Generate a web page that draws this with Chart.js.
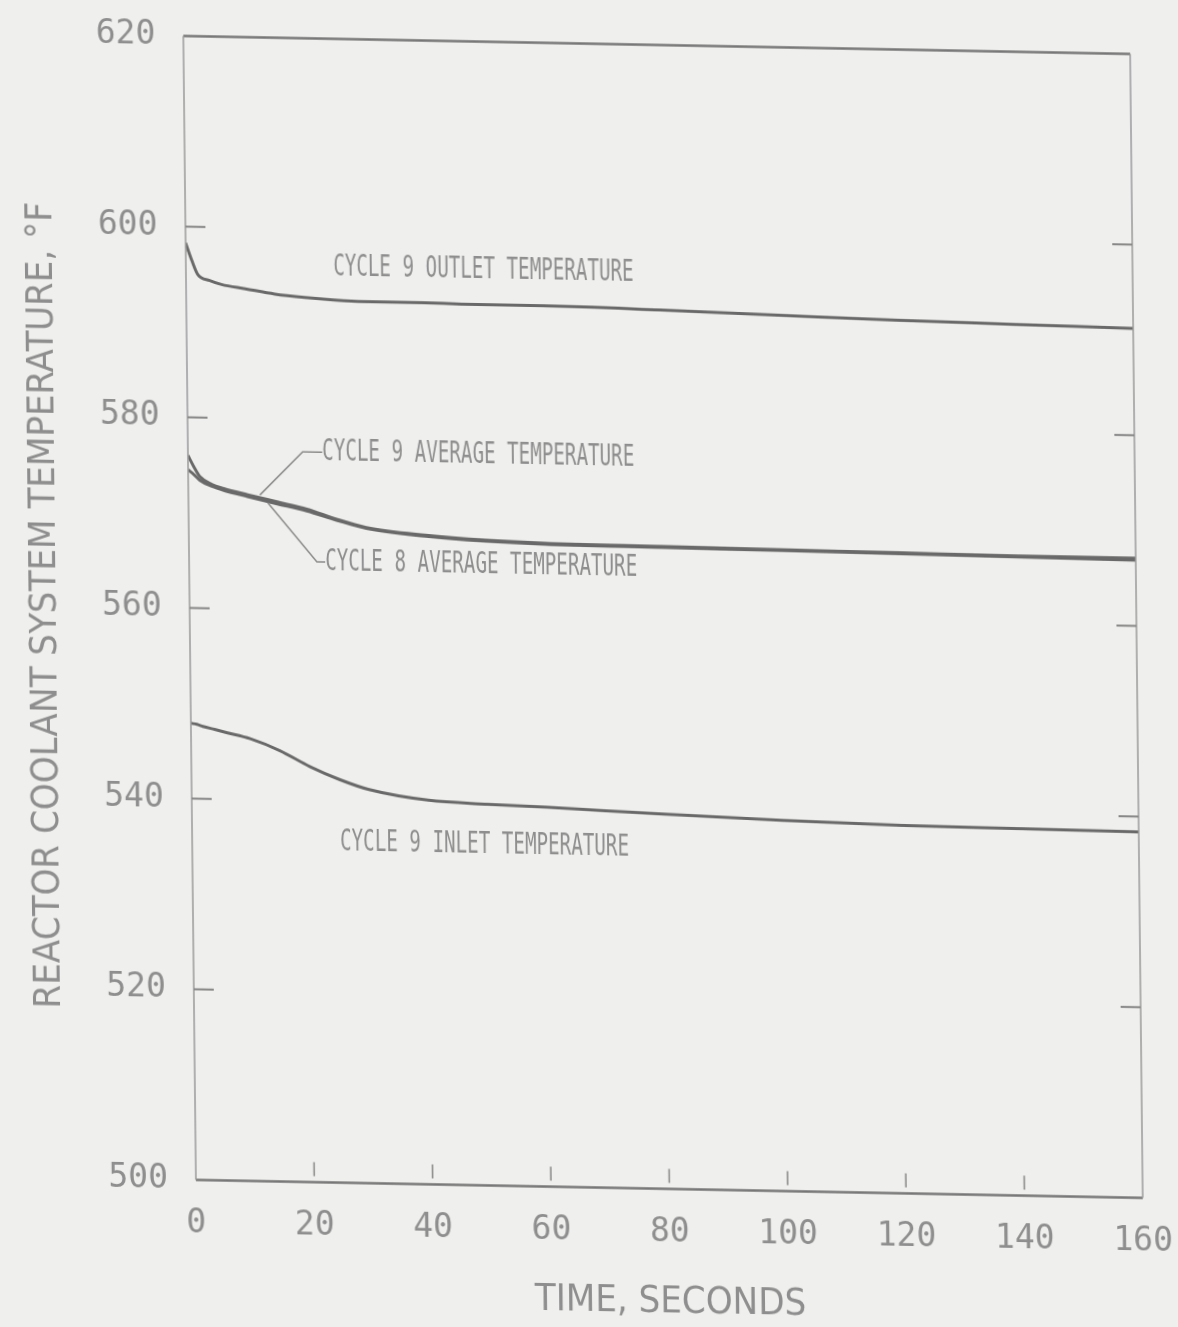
<!DOCTYPE html>
<html>
<head>
<meta charset="utf-8">
<script src="https://cdn.jsdelivr.net/npm/chart.js@4.4.0/dist/chart.umd.min.js"></script>
<style>
  html, body { margin: 0; padding: 0; background: #efefed; overflow: hidden; }
  /* the scanned plot is slightly skewed, so the whole canvas is too */
  #wrap {
    position: absolute; left: 0; top: 0; width: 1178px; height: 1327px;
    transform: matrix(1, 0.019, 0.011, 1, 0, 0); transform-origin: 0 0;
  }
</style>
</head>
<body>
<div id="wrap"><canvas id="chart"></canvas></div>
<script>
const timeSec = [0, 1, 2, 4, 6, 10, 15, 20, 25, 30, 40, 50, 60, 80, 100, 120, 140, 160];
const outletTemp = [598.3, 596.5, 595.0, 594.4, 594.0, 593.6, 593.1, 592.8, 592.6, 592.5, 592.5, 592.4, 592.4, 592.2, 591.9, 591.6, 591.4, 591.2];
const avgTempCycle9 = [576.0, 574.8, 573.8, 573.0, 572.6, 572.0, 571.3, 570.6, 569.6, 568.8, 568.1, 567.7, 567.5, 567.4, 567.3, 567.2, 567.1, 567.1];
const avgTempCycle8 = [574.5, 574.0, 573.4, 572.8, 572.4, 571.8, 571.1, 570.4, 569.5, 568.7, 568.0, 567.6, 567.4, 567.3, 567.2, 567.1, 567.0, 566.9];
const inletTemp = [547.9, 547.8, 547.6, 547.3, 547.0, 546.4, 545.2, 543.6, 542.3, 541.3, 540.3, 540.0, 539.8, 539.3, 538.9, 538.6, 538.5, 538.4];

const yTicks = [500, 520, 540, 560, 580, 600, 620];
const xTicks = [0, 20, 40, 60, 80, 100, 120, 140, 160];

// curve labels, anchored in data units (seconds, deg F)
const curveLabels = [
  { text: "CYCLE 9 OUTLET TEMPERATURE", t: 24.9, v: 596.0 },
  { text: "CYCLE 9 AVERAGE TEMPERATURE", t: 22.7, v: 576.6 },
  { text: "CYCLE 8 AVERAGE TEMPERATURE", t: 23.0, v: 565.1 },
  { text: "CYCLE 9 INLET TEMPERATURE", t: 25.0, v: 535.7 }
];
const leaderLines = [
  [[22.7, 576.6], [19.4, 576.6], [12.1, 572.0]],
  [[23.0, 565.1], [21.6, 565.1], [13.4, 571.2]]
];

const LINE = "#696969";
const TEXT = "#8e8e8e";
const MONO = "'DejaVu Sans Mono', 'Liberation Mono', monospace";
const COND = "'DejaVu Sans Condensed', 'DejaVu Sans', sans-serif";

function series(values) {
  return timeSec.map((t, i) => ({ x: t, y: values[i] }));
}

function seg(ctx, x1, y1, x2, y2) {
  ctx.beginPath();
  ctx.moveTo(x1, y1);
  ctx.lineTo(x2, y2);
  ctx.stroke();
}

const plotDecor = {
  id: "plotDecor",
  afterDatasetsDraw(chart) {
    const { ctx, chartArea: a, scales: { x, y } } = chart;
    ctx.save();
    ctx.strokeStyle = "#777";
    ctx.lineWidth = 2.5;
    seg(ctx, a.left, a.top, a.right, a.top);
    seg(ctx, a.left, a.bottom, a.right, a.bottom);
    ctx.lineWidth = 1.5;
    ctx.strokeStyle = "#9a9a9a";
    seg(ctx, a.left, a.top, a.left, a.bottom);
    seg(ctx, a.right, a.top, a.right, a.bottom);

    // inward tick marks
    ctx.strokeStyle = "#858585";
    ctx.lineWidth = 2;
    yTicks.slice(1, -1).forEach((v) => {
      const py = y.getPixelForValue(v);
      seg(ctx, a.left, py, a.left + 20, py);
      seg(ctx, a.right - 20, py, a.right, py);
    });
    ctx.lineWidth = 1.5;
    xTicks.slice(1, -1).forEach((t) => {
      const px = x.getPixelForValue(t);
      seg(ctx, px, a.bottom - 20, px, a.bottom - 6);
    });

    // leader lines
    ctx.strokeStyle = "#8a8a8a";
    ctx.lineWidth = 1.5;
    leaderLines.forEach((pts) => {
      ctx.beginPath();
      pts.forEach(([t, v], i) => {
        const px = x.getPixelForValue(t);
        const py = y.getPixelForValue(v);
        if (i === 0) ctx.moveTo(px, py); else ctx.lineTo(px, py);
      });
      ctx.stroke();
    });

    // plotter style labels, narrow glyphs
    ctx.fillStyle = TEXT;
    ctx.font = `30px ${MONO}`;
    ctx.textBaseline = "middle";
    ctx.textAlign = "left";
    curveLabels.forEach((lab) => {
      ctx.save();
      ctx.translate(x.getPixelForValue(lab.t), y.getPixelForValue(lab.v));
      ctx.scale(0.64, 1);
      ctx.fillText(lab.text, 0, 0);
      ctx.restore();
    });
    ctx.restore();
  }
};

const lineStyle = {
  borderColor: LINE,
  borderWidth: 3,
  pointRadius: 0,
  fill: false,
  cubicInterpolationMode: "monotone"
};

new Chart(document.getElementById("chart"), {
  type: "line",
  data: {
    datasets: [
      { label: "Cycle 9 outlet", data: series(outletTemp), ...lineStyle },
      { label: "Cycle 9 average", data: series(avgTempCycle9), ...lineStyle },
      { label: "Cycle 8 average", data: series(avgTempCycle8), ...lineStyle },
      { label: "Cycle 9 inlet", data: series(inletTemp), ...lineStyle }
    ]
  },
  options: {
    responsive: true,
    maintainAspectRatio: false,
    animation: false,
    layout: { padding: { top: 32.5, right: 48, bottom: 0, left: 0 } },
    plugins: { legend: { display: false }, tooltip: { enabled: false } },
    scales: {
      x: {
        type: "linear",
        min: 0,
        max: 160,
        afterBuildTicks: (s) => { s.ticks = xTicks.map((v) => ({ value: v })); },
        afterFit: (s) => { s.height = 150.5; s.paddingLeft = 0; s.paddingRight = 0; },
        grid: { display: false, drawTicks: false },
        border: { display: false },
        ticks: { padding: 24, color: TEXT, font: { family: MONO, size: 33 } },
        title: {
          display: true,
          text: "TIME, SECONDS",
          color: TEXT,
          font: { family: COND, size: 38 },
          padding: { top: 0, bottom: 14 }
        }
      },
      y: {
        min: 500,
        max: 620,
        afterBuildTicks: (s) => { s.ticks = yTicks.map((v) => ({ value: v })); },
        afterFit: (s) => { s.width = 183; s.paddingTop = 0; s.paddingBottom = 0; },
        grid: { display: false, drawTicks: false },
        border: { display: false },
        ticks: { padding: 28, color: TEXT, font: { family: MONO, size: 33 } },
        title: {
          display: true,
          text: "REACTOR COOLANT SYSTEM TEMPERATURE, °F",
          color: TEXT,
          font: { family: COND, size: 38 },
          padding: { top: 16, bottom: 0 }
        }
      }
    }
  },
  plugins: [plotDecor]
});
</script>
</body>
</html>
